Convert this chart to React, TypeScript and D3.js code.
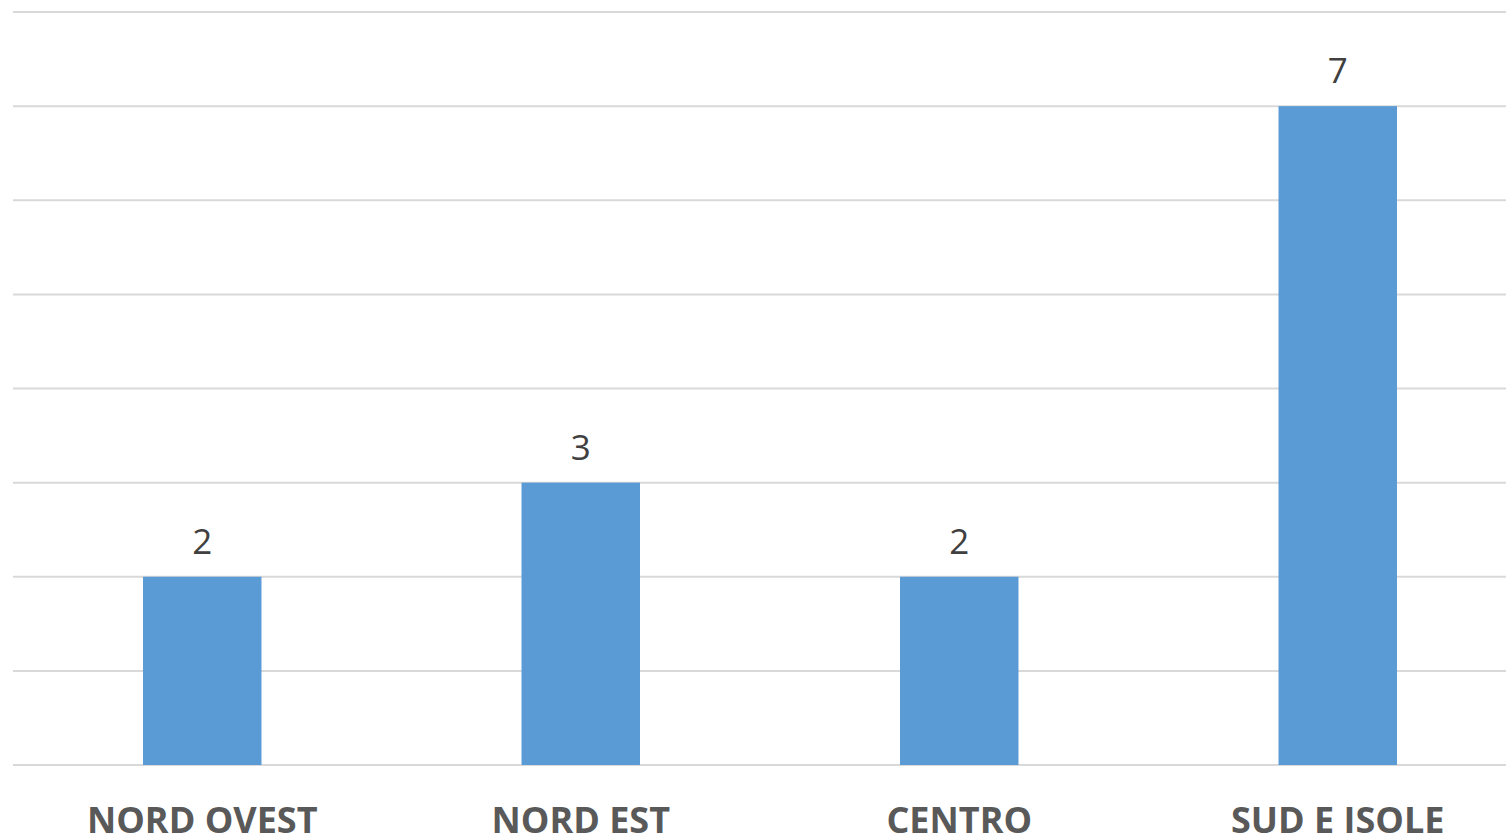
import React from "react";
import * as d3 from "d3";

const categories = ["NORD OVEST", "NORD EST", "CENTRO", "SUD E ISOLE"];
const values = [2, 3, 2, 7];
const gridTicks = [0, 1, 2, 3, 4, 5, 6, 7, 8];

export default function App() {
  const W = 1506;
  const H = 837;
  const x = d3
    .scaleBand<string>()
    .domain(categories)
    .range([13, 1527])
    .paddingInner(0.687)
    .paddingOuter(0.3435);
  const y = d3.scaleLinear().domain([0, 8]).range([765, 12]);
  const font = "'Open Sans', 'Liberation Sans', sans-serif";
  return (
    <svg
      width={W}
      height={H}
      style={{ position: "absolute", left: 0, top: 0, background: "#fff" }}
    >
      {gridTicks.map((t) => (
        <line
          key={t}
          x1={13}
          x2={1527}
          y1={y(t)}
          y2={y(t)}
          stroke="#D9D9D9"
          strokeWidth={2}
        />
      ))}
      {categories.map((c, i) => (
        <g key={c}>
          <rect
            x={x(c)}
            y={y(values[i])}
            width={x.bandwidth()}
            height={y(0) - y(values[i])}
            fill="#5B9BD5"
          />
          <text
            x={(x(c) as number) + x.bandwidth() / 2}
            y={y(values[i]) - 23}
            textAnchor="middle"
            fontFamily={font}
            fontSize={35}
            fill="#404040"
          >
            {values[i]}
          </text>
          <text
            x={(x(c) as number) + x.bandwidth() / 2}
            y={833}
            textAnchor="middle"
            fontFamily={font}
            fontSize={36}
            fontWeight="bold"
            fill="#595959"
          >
            {c}
          </text>
        </g>
      ))}
    </svg>
  );
}
